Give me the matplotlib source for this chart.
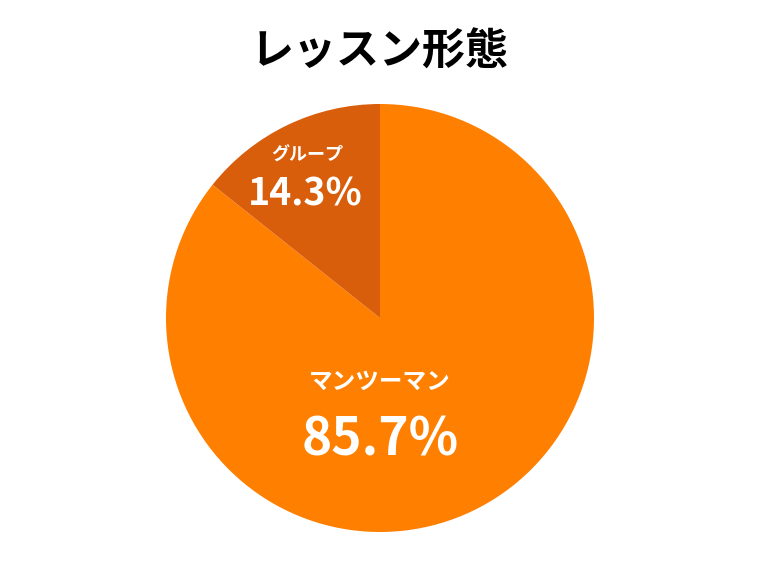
import matplotlib
matplotlib.use('Agg')
import matplotlib.pyplot as plt

plt.rcParams['font.family'] = ['Noto Sans CJK JP', 'DejaVu Sans']

# データ
labels = ['マンツーマン', 'グループ']
values = [85.7, 14.3]
colors = ['#FF7F00', '#D95E0B']

fig = plt.figure(figsize=(7.6, 5.7), dpi=100)
fig.patch.set_facecolor('white')

# 円グラフ用の軸（中心 380,318 半径 214px）
ax = fig.add_axes([166 / 760, 38 / 570, 428 / 760, 428 / 570])
wedges, _ = ax.pie(values, colors=colors, startangle=90, counterclock=False,
                   radius=1.0, wedgeprops={'linewidth': 0})
ax.set_xlim(-1, 1)
ax.set_ylim(-1, 1)
ax.set_aspect('equal')
ax.axis('off')

# ラベル（名前と割合）
name_pos = [(0.0, -0.30), (-0.34, 0.76)]
pct_pos = [(0.0, -0.57), (-0.35, 0.58)]
name_size = [17, 13]
pct_size = [37, 27]
for i in range(len(labels)):
    ax.text(name_pos[i][0], name_pos[i][1], labels[i], ha='center', va='center',
            color='white', fontsize=name_size[i], fontweight='bold')
    ax.text(pct_pos[i][0], pct_pos[i][1], f'{values[i]}%', ha='center', va='center',
            color='white', fontsize=pct_size[i], fontweight='bold')

fig.text(0.5, 1 - 52 / 570, 'レッスン形態', ha='center', va='center',
         fontsize=31, fontweight='bold', color='black')

plt.savefig('out.png', dpi=100)
